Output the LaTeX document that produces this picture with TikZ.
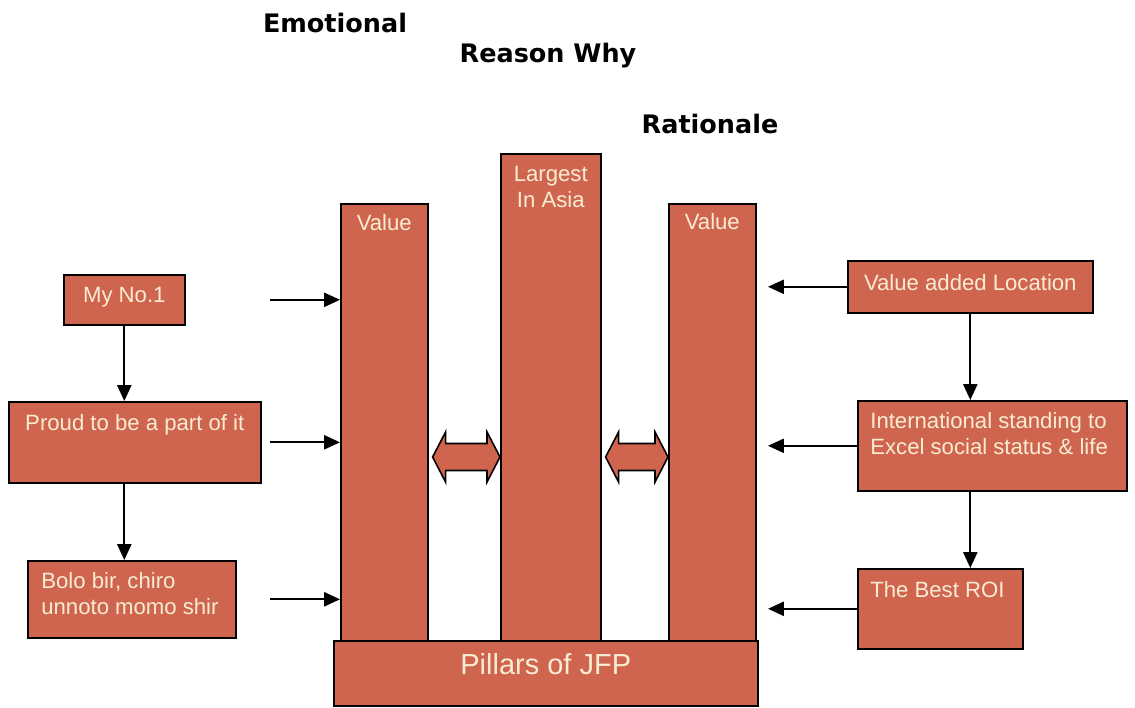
\documentclass[tikz,border=0pt]{standalone}
\usepackage{fontspec}
\setmainfont{Liberation Sans}
\newfontfamily\titlefont{DejaVu Sans}
\usetikzlibrary{positioning, arrows.meta, calc}
\definecolor{pillarRed}{HTML}{D0654F}
\definecolor{creamText}{HTML}{F8ECD2}
\tikzstyle{redbox} =[fill=pillarRed, draw=black, line width=0.9pt, inner sep=0pt, anchor=north west]
\tikzstyle{boxtext} =[text=creamText, inner sep=0pt, align=left, font=\fontsize{12.6}{14.7}\selectfont]
\tikzstyle{heading} =[anchor=base, font=\titlefont\bfseries\fontsize{14.5}{17}\selectfont]
\tikzstyle{flowarrow} =[-{Triangle[length=9pt, width=8pt]}, line width=1.1pt, black]

\begin{document}
\begin{tikzpicture}
\useasboundingbox (0,0) rectangle (22.7,-14.14);

\node (emotional) [heading] at (6.7,-0.64) {Emotional};
\node (reasonWhy) [heading] at (10.96,-1.24) {Reason Why};
\node (rationale) [heading] at (14.2,-2.66) {Rationale};

% pillars and base
\node (valueL) [redbox, minimum width=1.74cm, minimum height=8.74cm] at (6.8,-4.06) {};
\node (valueLText) [boxtext, below=0.22cm] at (valueL.north) {Value};
\node (largest) [redbox, minimum width=2cm, minimum height=9.74cm] at (10,-3.06) {};
\node (largestText) [boxtext, align=center, below=0.26cm] at (largest.north) {Largest\\In Asia};
\node (valueR) [redbox, minimum width=1.74cm, minimum height=8.74cm] at (13.36,-4.06) {};
\node (valueRText) [boxtext, below=0.2cm] at (valueR.north) {Value};
\node (pillarBase) [redbox, minimum width=8.48cm, minimum height=1.3cm] at (6.66,-12.8) {};
\node (pillarBaseText) [boxtext, font=\fontsize{16.5}{19}\selectfont] at ($(pillarBase.center)+(0,0.18)$) {Pillars of JFP};

% emotional side
\node (noOne) [redbox, minimum width=2.42cm, minimum height=1cm] at (1.26,-5.48) {};
\node (noOneText) [boxtext, below=0.26cm] at (noOne.north) {My No.1};
\node (proud) [redbox, minimum width=5.04cm, minimum height=1.62cm] at (0.16,-8.02) {};
\node (proudText) [boxtext, below=0.27cm] at (proud.north) {Proud to be a part of it};
\node (bolo) [redbox, minimum width=4.16cm, minimum height=1.54cm] at (0.54,-11.2) {};
\node (boloText) [boxtext, anchor=north west] at ($(bolo.north west)+(0.28,-0.24)$) {Bolo bir, chiro\\unnoto momo shir};

% rationale side
\node (location) [redbox, minimum width=4.9cm, minimum height=1.04cm] at (16.94,-5.2) {};
\node (locationText) [boxtext, below=0.28cm] at (location.north) {Value added Location};
\node (standing) [redbox, minimum width=5.38cm, minimum height=1.8cm] at (17.14,-8.0) {};
\node (standingText) [boxtext, anchor=north west] at ($(standing.north west)+(0.26,-0.24)$) {International standing to\\Excel social status \& life};
\node (roi) [redbox, minimum width=3.3cm, minimum height=1.6cm] at (17.14,-11.36) {};
\node (roiText) [boxtext, anchor=north west] at ($(roi.north west)+(0.26,-0.26)$) {The Best ROI};

\coordinate (leftStart) at (5.4,0);
\coordinate (rightTip) at (15.36,0);
\coordinate (linkY) at (0,-9.14);

\foreach \src in {noOne, proud, bolo}
	\draw[flowarrow] (\src.east -| leftStart) -- (\src.east -| valueL.west);
\foreach \src in {location, standing, roi}
	\draw[flowarrow] (\src.west) -- (\src.west -| rightTip);

\draw[flowarrow] (noOne.south) -- (noOne.south |- proud.north);
\draw[flowarrow] (noOne.south |- proud.south) -- (noOne.south |- bolo.north);
\draw[flowarrow] (location.south) -- (location.south |- standing.north);
\draw[flowarrow] (location.south |- standing.south) -- (location.south |- roi.north);

% double arrows between the pillars
\foreach \a/\b in {valueL/largest, largest/valueR} {
	\coordinate (s0) at (\a.east |- linkY);
	\coordinate (s) at ($(s0)+(0.08,0)$);
	\coordinate (t) at (\b.west |- linkY);
	\draw[fill=pillarRed, line width=0.9pt] (s) -- ++(0.26,0.5) -- ++(0,-0.23) -- ($(t)+(-0.26,0.27)$) -- ++(0,0.23) -- (t) -- ++(-0.26,-0.5) -- ++(0,0.23) -- ($(s)+(0.26,-0.27)$) -- ++(0,-0.23) -- cycle;
}
\end{tikzpicture}
\end{document}
